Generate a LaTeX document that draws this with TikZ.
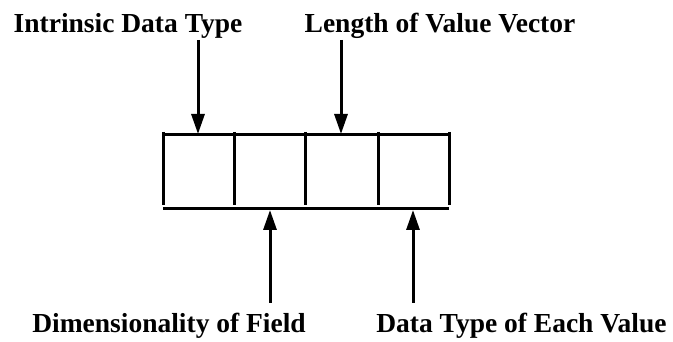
\documentclass[tikz,border=0pt]{standalone}
\usepackage{fontspec}
\setmainfont{Liberation Serif}
\usetikzlibrary{arrows.meta}
\begin{document}
\begin{tikzpicture}[x=1pt,y=-1pt,
  lbl/.style={font=\fontsize{27.5}{30}\selectfont\bfseries, inner sep=0pt, anchor=base},
  rule/.style={line width=3pt},
  ptr/.style={line width=3pt, -{Triangle[length=20pt,width=13pt]}}]
\useasboundingbox (0,0) rectangle (673,342);
% labels
\node[lbl] (idt) at (128,33) {Intrinsic Data Type};
\node[lbl] (lvv) at (440,33) {Length of Value Vector};
\node[lbl] (dof) at (169,333) {Dimensionality of Field};
\node[lbl] (dte) at (521.5,333) {Data Type of Each Value};
% record box
\coordinate (tl) at (163,135);
\coordinate (tr) at (449,135);
\coordinate (bl) at (163,209);
\coordinate (br) at (449,209);
\draw[rule] (tl) -- (tr);
\draw[rule] (bl) -- (br);
\foreach \x/\n in {163/a,234/b,305/c,378/d,449/e}{
  \draw[rule] (\x,132) -- (\x,205);
}
% arrow coordinates
\coordinate (t1s) at (198,40);
\coordinate (t1e) at (198,134);
\coordinate (t2s) at (341,40);
\coordinate (t2e) at (341,134);
\coordinate (b1s) at (270,303);
\coordinate (b1e) at (270,210);
\coordinate (b2s) at (413,303);
\coordinate (b2e) at (413,210);
\draw[ptr] (t1s) -- (t1e);
\draw[ptr] (t2s) -- (t2e);
\draw[ptr] (b1s) -- (b1e);
\draw[ptr] (b2s) -- (b2e);
\end{tikzpicture}
\end{document}
